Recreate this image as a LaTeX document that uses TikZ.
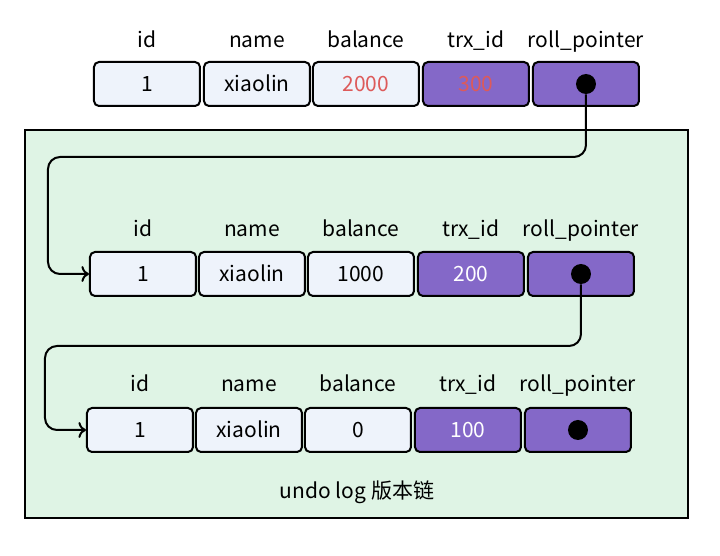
\documentclass[tikz,border=0pt]{standalone}
\usepackage{fontspec}
\setmainfont{Noto Sans CJK SC}
\usepackage{tikz}
\usetikzlibrary{arrows.meta, calc}

\definecolor{cellbg}{HTML}{EEF3FB}
\definecolor{trxbg}{HTML}{8468C8}
\definecolor{undobg}{HTML}{DFF4E5}
\definecolor{newval}{HTML}{DD5A5A}

\tikzset{
  cell/.style={draw=black, line width=1pt, rounded corners=2.5pt, fill=cellbg,
    minimum width=53pt, minimum height=22pt, inner sep=0pt,
    text height=1.6ex, text depth=0.3ex, font=\fontsize{10.5}{12}\selectfont},
  trxcell/.style={cell, fill=trxbg},
  head/.style={text height=1.6ex, text depth=0.3ex, font=\fontsize{10.5}{12}\selectfont},
  ptr/.style={circle, fill=black, minimum size=10pt, inner sep=0pt},
  link/.style={->, line width=1pt, rounded corners=6pt}
}

\begin{document}
\begin{tikzpicture}[x=0.5pt, y=-0.5pt]
  \useasboundingbox (0,0) rectangle (720,556);
  % undo log area
  \draw[line width=1pt, fill=undobg] (25,130) rectangle (688,518);
  \node[head] (undolbl) at (357,491) {undo log 版本链};

  % current record
  \node[head] (h1id) at (147,40) {id};
  \node[head] (h1name) at (257,40) {name};
  \node[head] (h1bal) at (366,40) {balance};
  \node[head] (h1trx) at (476,40) {trx\_id};
  \node[head] (h1ptr) at (586,40) {roll\_pointer};
  \node[cell] (r1id) at (147,84) {1};
  \node[cell] (r1name) at (257,84) {xiaolin};
  \node[cell, text=newval] (r1bal) at (366,84) {2000};
  \node[trxcell, text=newval] (r1trx) at (476,84) {300};
  \node[trxcell] (r1ptr) at (586,84) {};
  \node[ptr] (p1) at (586,84) {};

  % first undo record
  \node[head] (h2id) at (143,229) {id};
  \node[head] (h2name) at (252,229) {name};
  \node[head] (h2bal) at (361,229) {balance};
  \node[head] (h2trx) at (471,229) {trx\_id};
  \node[head] (h2ptr) at (581,229) {roll\_pointer};
  \node[cell] (r2id) at (143,274) {1};
  \node[cell] (r2name) at (252,274) {xiaolin};
  \node[cell] (r2bal) at (361,274) {1000};
  \node[trxcell, text=white] (r2trx) at (471,274) {200};
  \node[trxcell] (r2ptr) at (581,274) {};
  \node[ptr] (p2) at (581,274) {};

  % second undo record
  \node[head] (h3id) at (140,384) {id};
  \node[head] (h3name) at (249,384) {name};
  \node[head] (h3bal) at (358,384) {balance};
  \node[head] (h3trx) at (468,384) {trx\_id};
  \node[head] (h3ptr) at (578,384) {roll\_pointer};
  \node[cell] (r3id) at (140,430) {1};
  \node[cell] (r3name) at (249,430) {xiaolin};
  \node[cell] (r3bal) at (358,430) {0};
  \node[trxcell, text=white] (r3trx) at (468,430) {100};
  \node[trxcell] (r3ptr) at (578,430) {};
  \node[ptr] (p3) at (578,430) {};

  % roll pointers
  \coordinate (b1) at (48,157);
  \coordinate (b2) at (45,346);
  \draw[link] (p1) |- (b1) |- (r2id.west);
  \draw[link] (p2) |- (b2) |- (r3id.west);
\end{tikzpicture}
\end{document}
